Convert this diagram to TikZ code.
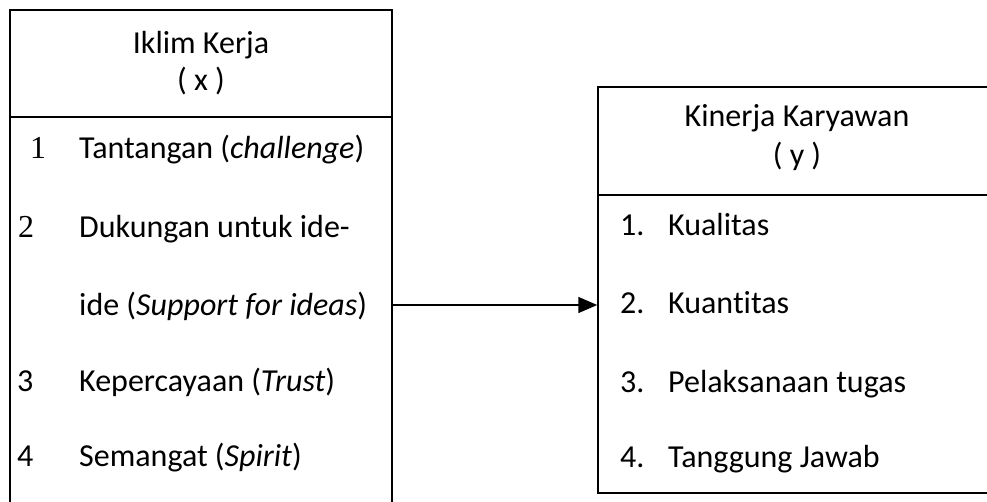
\documentclass[tikz,border=0pt]{standalone}
\usepackage{fontspec}
\setmainfont{Carlito}[Ligatures=NoCommon]
\newfontfamily\numfont{Liberation Serif}
\usetikzlibrary{arrows.meta}

\begin{document}
\begin{tikzpicture}[x=1pt, y=-1pt,
	box/.style={draw=black, line width=1.5pt, inner sep=0pt},
	txt/.style={font=\fontsize{32}{38}\selectfont, inner sep=0pt, anchor=base west},
	head/.style={font=\fontsize{32}{38}\selectfont, inner sep=0pt, anchor=base},
	num/.style={font=\numfont\fontsize{32}{38}\selectfont, inner sep=0pt, anchor=base}]
	
	\useasboundingbox (0,0) rectangle (987,501);
	
	% left box (x)
	\node[box, minimum width=382pt, minimum height=107pt] (xhead) at (201, 63.5) {};
	\node[box, minimum width=382pt, minimum height=420pt] (xlist) at (201, 327) {};
	\node[head] (xname) at (201, 53) {Iklim Kerja};
	\node[head] (xvar)  at (201, 90) {( x )};
	
	\node[num] (n1) at (38, 158) {1};
	\node[num] (n2) at (26, 237) {2};
	\node[txt] (n3) at (17, 391) {3};
	\node[txt] (n4) at (17, 466) {4};
	
	\node[txt] (x1) at (79, 158) {Tantangan (\textit{challenge})};
	\node[txt] (x2) at (79, 237) {Dukungan untuk ide-};
	\node[txt] (x2b) at (79, 315) {ide (\textit{Support for ideas})};
	\node[txt] (x3) at (79, 391) {Kepercayaan (\textit{Trust})};
	\node[txt] (x4) at (79, 466) {Semangat (\textit{Spirit})};
	
	% right box (y)
	\node[box, minimum width=420pt, minimum height=406pt] (ybox) at (808, 290) {};
	\draw[line width=1.5pt] (598, 195) -- (1018, 195);
	\node[head] (yname) at (797, 126) {Kinerja Karyawan};
	\node[head] (yvar)  at (797, 165) {( y )};
	
	\node[txt] (m1) at (620, 235) {1.};
	\node[txt] (m2) at (620, 313) {2.};
	\node[txt] (m3) at (620, 392) {3.};
	\node[txt] (m4) at (620, 467) {4.};
	
	\node[txt] (y1) at (668, 235) {Kualitas};
	\node[txt] (y2) at (668, 313) {Kuantitas};
	\node[txt] (y3) at (668, 392) {Pelaksanaan tugas};
	\node[txt] (y4) at (668, 467) {Tanggung Jawab};
	
	\coordinate (arrowy) at (0, 305);
	\draw[line width=1.5pt, -{Triangle[length=19pt, width=16pt]}] (xlist.east |- arrowy) -- (ybox.west |- arrowy);
	
\end{tikzpicture}
\end{document}
